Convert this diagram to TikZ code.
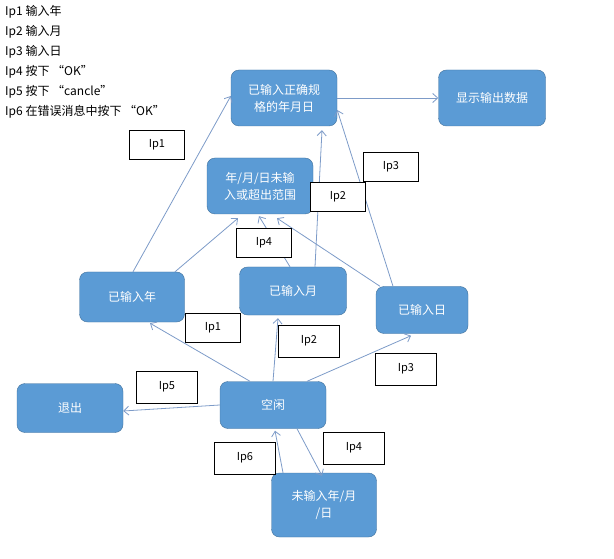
\documentclass[tikz,border=0pt]{standalone}
\usepackage{fontspec}
\setmainfont{Noto Sans CJK SC}
\usetikzlibrary{arrows.meta}
\definecolor{boxfill}{RGB}{91,155,213}
\definecolor{boxline}{RGB}{65,113,156}
\definecolor{arrowc}{RGB}{125,155,200}
\tikzset{
  state/.style={draw=boxline, fill=boxfill, rounded corners=8pt, text=white,
    font=\fontsize{12}{17}\selectfont, align=center, inner sep=0pt},
  tag/.style={draw, thick, fill=white, font=\fontsize{11}{13}\selectfont, inner sep=0pt},
  flow/.style={draw=arrowc, thick, -{Straight Barb[length=5pt,width=9pt]}},
  note/.style={anchor=west, font=\fontsize{12}{14}\selectfont, inner sep=0pt}
}
\begin{document}
\begin{tikzpicture}[x=1pt,y=-1pt]
    \useasboundingbox (0,0) rectangle (614,559);

    \node[note] (n1) at (5,12) {Ip1 输入年};
    \node[note] (n2) at (5,32) {Ip2 输入月};
    \node[note] (n3) at (5,52) {Ip3 输入日};
    \node[note] (n4) at (5,72) {Ip4 按下 “OK”};
    \node[note] (n5) at (5,92) {Ip5 按下 “cancle”};
    \node[note] (n6) at (5,112) {Ip6 在错误消息中按下 “OK”};

    \node[state, minimum width=106pt, minimum height=56pt] (ok) at (284,98) {已输入正确规\\格的年月日};
    \node[state, minimum width=107pt, minimum height=56pt] (show) at (492,98) {显示输出数据};
    \node[state, minimum width=106pt, minimum height=56pt] (err) at (260,186) {年/月/日未输\\入或超出范围};
    \node[state, minimum width=105pt, minimum height=50pt] (year) at (132,297) {已输入年};
    \node[state, minimum width=107pt, minimum height=48pt] (month) at (293,291) {已输入月};
    \node[state, minimum width=92pt, minimum height=47pt] (day) at (422,310) {已输入日};
    \node[state, minimum width=106pt, minimum height=47pt] (idle) at (273,405) {空闲};
    \node[state, minimum width=106pt, minimum height=49pt] (quit) at (70,408) {退出};
    \node[state, minimum width=105pt, minimum height=64pt] (none) at (324,505) {未输入年/月\\/日};

    \draw[flow] ([xshift=1pt]year.north) -- ([yshift=2pt]ok.west);
    \draw[flow] ([xshift=43pt]year.north) -- ([xshift=-22pt,yshift=-4pt]err.south);
    \draw[flow] ([xshift=-3pt]month.north) -- ([xshift=-1pt,yshift=-2pt]err.south);
    \draw[flow] ([xshift=22pt]month.north) -- ([xshift=38pt,yshift=-4pt]ok.south);
    \draw[flow] ([xshift=-42pt]day.north) -- ([xshift=17pt,yshift=-4pt]err.south);
    \draw[flow] ([xshift=-29pt]day.north) -- ([yshift=-12pt]ok.east);
    \draw[flow] (ok.east) -- (show.west);
    \draw[flow] ([xshift=-23pt]idle.north) -- ([xshift=18pt,yshift=-1pt]year.south);
    \draw[flow] (idle.north) -- ([xshift=-15pt,yshift=-3pt]month.south);
    \draw[flow] ([xshift=34pt]idle.north) -- ([xshift=-11pt,yshift=-2pt]day.south);
    \draw[flow] (idle.west) -- ([yshift=-3pt]quit.east);
    \draw[flow] ([xshift=24pt]idle.south) -- ([xshift=-2pt,yshift=-3pt]none.north);
    \draw[flow] ([xshift=-41pt]none.north) -- ([xshift=2pt,yshift=-2pt]idle.south);

    \node[tag, minimum width=55pt, minimum height=29pt] (t1a) at (157,145) {Ip1};
    \node[tag, minimum width=55pt, minimum height=29pt] (t3a) at (391,167) {Ip3};
    \node[tag, minimum width=55pt, minimum height=29pt] (t2a) at (338,197) {Ip2};
    \node[tag, minimum width=55pt, minimum height=29pt] (t4a) at (264,243) {Ip4};
    \node[tag, minimum width=55pt, minimum height=29pt] (t1b) at (213,328) {Ip1};
    \node[tag, minimum width=61pt, minimum height=32pt] (t2b) at (309,341) {Ip2};
    \node[tag, minimum width=61pt, minimum height=32pt] (t3b) at (406,369) {Ip3};
    \node[tag, minimum width=61pt, minimum height=32pt] (t5) at (167,387) {Ip5};
    \node[tag, minimum width=61pt, minimum height=32pt] (t6) at (245,458) {Ip6};
    \node[tag, minimum width=61pt, minimum height=32pt] (t4b) at (354,448) {Ip4};
\end{tikzpicture}
\end{document}
